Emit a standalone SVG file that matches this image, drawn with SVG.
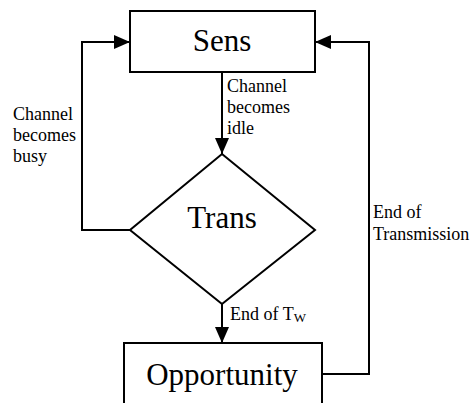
<svg xmlns="http://www.w3.org/2000/svg" width="472" height="403" viewBox="0 0 472 403">
<style>
.n{fill:#fff;stroke:#000;stroke-width:2}
.c{fill:none;stroke:#000;stroke-width:2}
.big{font-family:"Liberation Serif","Times New Roman",serif;font-size:31px;fill:#000;text-anchor:middle}
.lb{font-family:"Liberation Serif","Times New Roman",serif;font-size:18px;fill:#000}
</style>
<defs>
<marker id="ah" markerWidth="16" markerHeight="14" refX="16" refY="7" orient="auto" markerUnits="userSpaceOnUse">
<path d="M0,0 L16,7 L0,14 Z" fill="#000"/>
</marker>
</defs>
<g id="connectors">
<path class="c" d="M222,72 L222,154" marker-end="url(#ah)"/>
<path class="c" d="M222,304 L222,343" marker-end="url(#ah)"/>
<path class="c" d="M130,230 L82,230 L82,42 L130,42" marker-end="url(#ah)"/>
<path class="c" d="M322,374 L369,374 L369,42 L315,42" marker-end="url(#ah)"/>
<text class="lb" x="227" y="92">Channel</text>
<text class="lb" x="227" y="113">becomes</text>
<text class="lb" x="227" y="134">idle</text>
<text class="lb" x="13" y="120">Channel</text>
<text class="lb" x="13" y="141">becomes</text>
<text class="lb" x="13" y="162">busy</text>
<text class="lb" x="373" y="218">End of</text>
<text class="lb" x="373" y="240">Transmission</text>
<text class="lb" x="230" y="320">End of T<tspan font-size="13" dy="2">W</tspan></text>
</g>
<g id="sens">
<rect class="n" x="130" y="11" width="185" height="61"/>
<text class="big" x="222" y="51">Sens</text>
</g>
<g id="trans">
<path class="n" d="M222,154 L315,230 L222,304 L130,230 Z"/>
<text class="big" x="222" y="228">Trans</text>
</g>
<g id="opportunity">
<rect class="n" x="124" y="343" width="198" height="70"/>
<text class="big" x="222" y="385">Opportunity</text>
</g>
</svg>
